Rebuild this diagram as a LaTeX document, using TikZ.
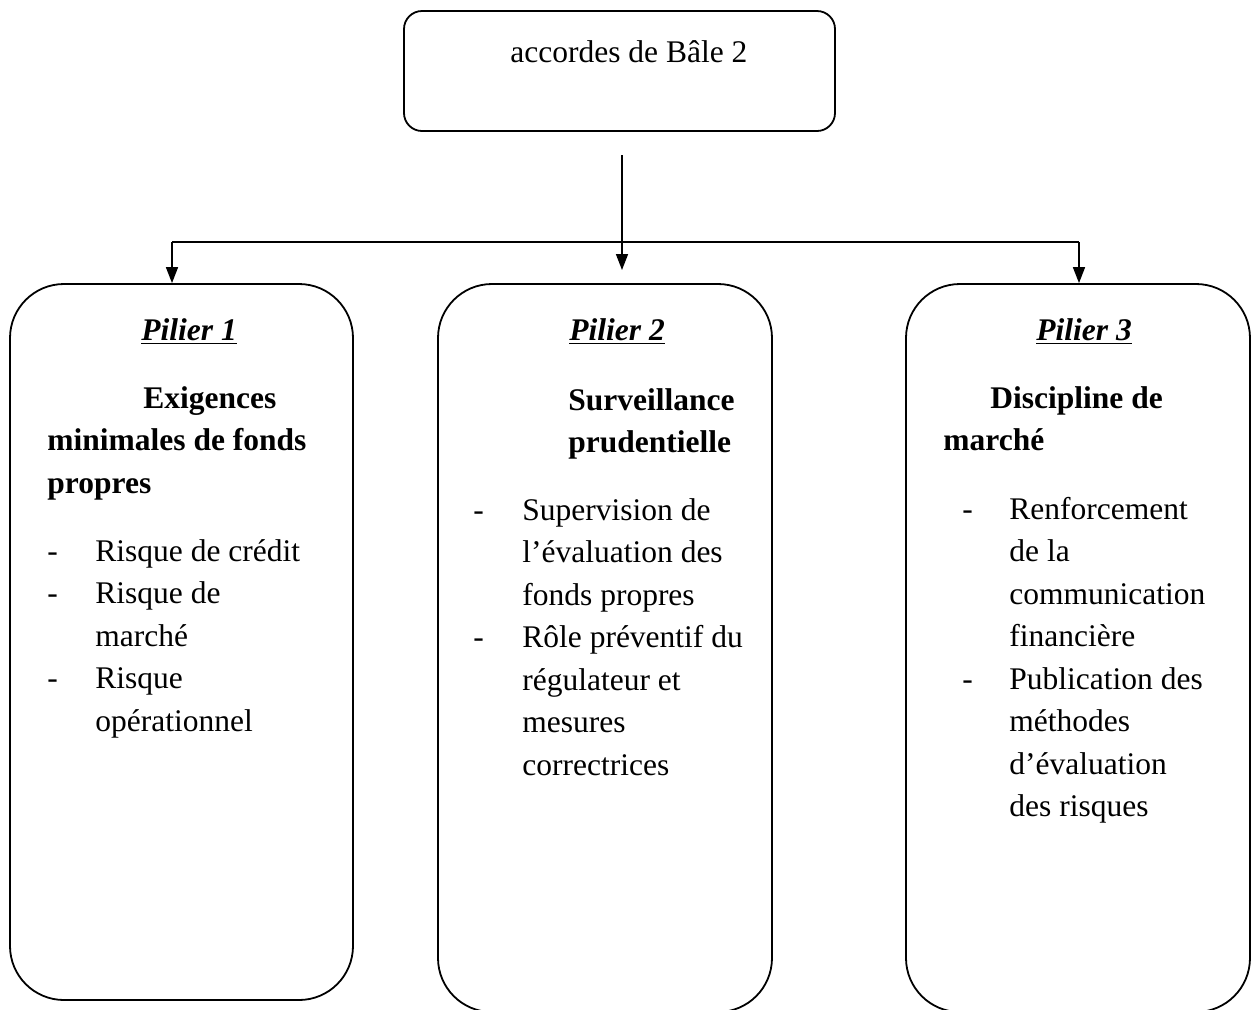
\documentclass[tikz,border=0pt]{standalone}
\usepackage{fontspec}
\setmainfont{Liberation Serif}
\usetikzlibrary{arrows.meta}
\tikzset{
	boite/.style={draw, line width=0.9pt, rounded corners=27pt},
	fleche/.style={-{Triangle[length=8pt,width=6pt]}, line width=0.8pt},
	texte/.style={anchor=base west, inner sep=0pt, font=\fontsize{15.75}{21.25}\selectfont},
	gras/.style={texte, font=\fontsize{15.75}{21.25}\selectfont\bfseries},
}
\newcommand{\pilier}[1]{\textbf{\textit{\underline{Pilier #1}}}}

\begin{document}
\begin{tikzpicture}[x=0.5pt, y=-0.5pt]
	\useasboundingbox (0,0) rectangle (1255,1009);
	\clip (0,0) rectangle (1255,1009);
	\node[boite, rounded corners=9pt, minimum width=215.5pt, minimum height=60pt] at (619.5, 71) (accords) {};
	\node[texte] at (510, 62) (titre) {accordes de Bâle 2};
	\node[boite, minimum width=171.5pt, minimum height=358pt] at (181.5, 642) (p1) {};
	\node[boite, minimum width=167pt, minimum height=364pt] at (605, 648) (p2) {};
	\node[boite, minimum width=172pt, minimum height=364pt] at (1078, 648) (p3) {};
	\node[texte] at (141, 340) (t1) {\pilier{1}};
	\node[texte] at (569, 340) (t2) {\pilier{2}};
	\node[texte] at (1036, 340) (t3) {\pilier{3}};
	\node[gras] at (47, 408) (h1) {\begin{tabular}[t]{@{}l@{}}
		\hspace{48pt}Exigences\\
		minimales de fonds\\
		propres
	\end{tabular}};
	\node[gras] at (568, 410) (h2) {\begin{tabular}[t]{@{}l@{}}
		Surveillance\\
		prudentielle
	\end{tabular}};
	\node[gras] at (943, 408) (h3) {\begin{tabular}[t]{@{}l@{}}
		\hspace{23.5pt}Discipline de\\
		marché
	\end{tabular}};
	\node[texte] at (47, 561) (l1) {\begin{tabular}[t]{@{}p{24pt}@{}l@{}}
		- & Risque de crédit\\
		- & Risque de\\
		& marché\\
		- & Risque\\
		& opérationnel
	\end{tabular}};
	\node[texte] at (473, 520) (l2) {\begin{tabular}[t]{@{}p{24.5pt}@{}l@{}}
		- & Supervision de\\
		& l’évaluation des\\
		& fonds propres\\
		- & Rôle préventif du\\
		& régulateur et\\
		& mesures\\
		& correctrices
	\end{tabular}};
	\node[texte] at (962, 519) (l3) {\begin{tabular}[t]{@{}p{23.5pt}@{}l@{}}
		- & Renforcement\\
		& de la\\
		& communication\\
		& financière\\
		- & Publication des\\
		& méthodes\\
		& d’évaluation\\
		& des risques
	\end{tabular}};
	\coordinate (depart) at (622, 155);
	\coordinate (bout) at (622, 270);
	\coordinate (brG) at (172, 242);
	\coordinate (brD) at (1079, 242);
	\draw[fleche] (depart) -- (bout);
	\draw[line width=0.8pt] (brG) -- (brD);
	\draw[fleche] (brG) -- (brG |- p1.north);
	\draw[fleche] (brD) -- (brD |- p3.north);
\end{tikzpicture}
\end{document}
